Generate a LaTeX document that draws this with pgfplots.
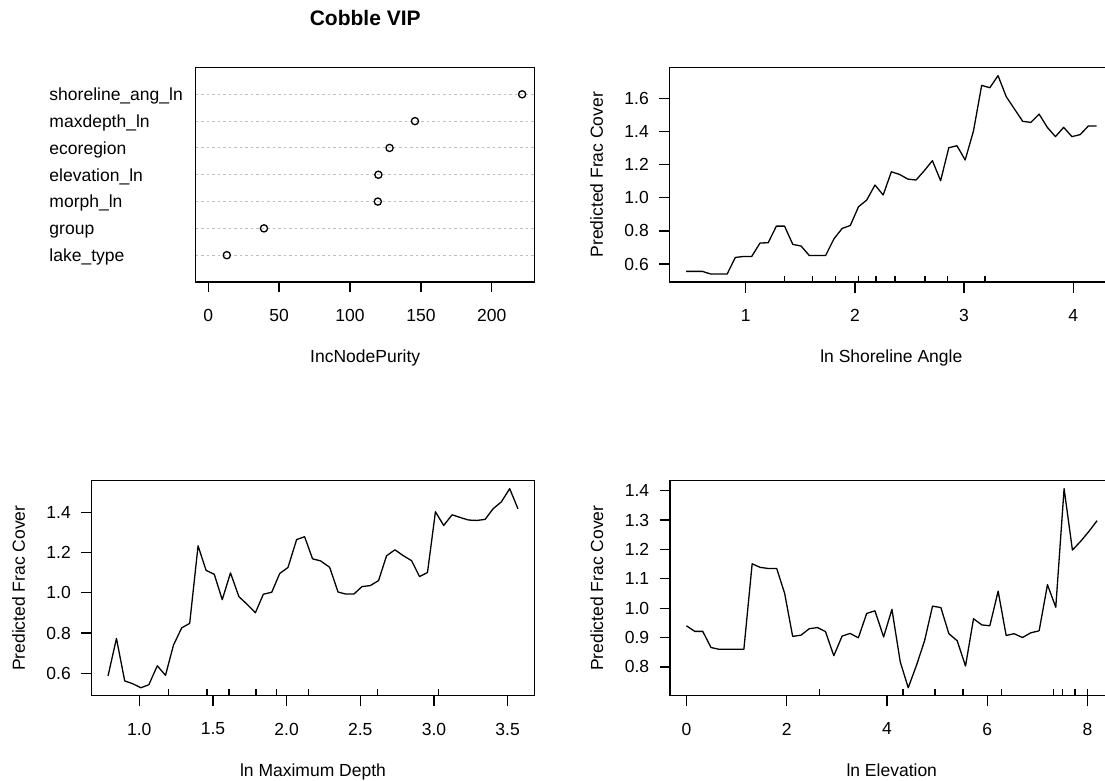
\documentclass[border=0pt]{standalone}
\usepackage{fontspec}
\setmainfont{Liberation Sans}
\usepackage{pgfplots}
\pgfplotsset{compat=1.18}

\definecolor{dotgray}{RGB}{190,190,190}

% common look of the four panels (base R graphics style)
\pgfplotsset{
  rplot/.style={
    scale only axis,
    axis line style={line width=1.3pt, black},
    tick style={line width=1.3pt, black},
    tick align=outside,
    major tick length=10.5pt,
    tick pos=left,
    extra tick style={tick align=outside, major tick length=10.5pt,
      tick style={line width=1.3pt, black}},
    tick label style={font=\fontsize{17.5}{21}\selectfont, inner sep=0pt},
    label style={font=\fontsize{17.5}{21}\selectfont, inner sep=0pt},
    xticklabel style={anchor=north},
    xticklabel shift=16.5pt,
    yticklabel style={anchor=east},
    yticklabel shift=10.2pt,
    xlabel style={at={([yshift=-80.5pt]axis description cs:0.5,0)}, anchor=base},
    ylabel style={at={([xshift=-66.9pt]axis description cs:0,0.5)}, anchor=base},
  },
  pdline/.style={black, line width=1.3pt, no marks, line join=round},
  rugmarks/.style={black, only marks, mark=|, mark size=3.2pt,
    mark options={line width=1.3pt}},
}

\pgfplotstableread{
x y
0.454 0.556
0.529 0.556
0.604 0.556
0.680 0.540
0.755 0.540
0.830 0.540
0.905 0.640
0.980 0.646
1.055 0.646
1.131 0.727
1.206 0.729
1.281 0.829
1.356 0.829
1.431 0.719
1.507 0.709
1.582 0.652
1.657 0.652
1.732 0.652
1.807 0.751
1.883 0.815
1.958 0.833
2.033 0.946
2.108 0.986
2.184 1.077
2.259 1.017
2.334 1.157
2.409 1.141
2.484 1.113
2.560 1.107
2.635 1.163
2.710 1.224
2.785 1.103
2.860 1.302
2.935 1.314
3.010 1.228
3.086 1.403
3.161 1.678
3.236 1.664
3.311 1.737
3.386 1.610
3.461 1.536
3.537 1.461
3.612 1.455
3.687 1.505
3.762 1.425
3.837 1.369
3.912 1.425
3.988 1.369
4.063 1.381
4.138 1.433
4.213 1.433
}\tabshore

\pgfplotstableread{
x y
0.788 0.587
0.845 0.773
0.901 0.562
0.955 0.548
1.011 0.528
1.065 0.543
1.122 0.637
1.178 0.590
1.232 0.740
1.288 0.826
1.342 0.848
1.399 1.234
1.453 1.112
1.509 1.092
1.563 0.966
1.619 1.099
1.676 0.981
1.730 0.944
1.788 0.901
1.842 0.993
1.899 1.003
1.953 1.096
2.009 1.126
2.068 1.265
2.122 1.279
2.176 1.169
2.230 1.159
2.292 1.127
2.349 1.004
2.401 0.994
2.457 0.994
2.511 1.031
2.568 1.036
2.624 1.061
2.678 1.184
2.735 1.214
2.791 1.185
2.848 1.160
2.902 1.081
2.956 1.101
3.010 1.403
3.066 1.335
3.123 1.388
3.177 1.375
3.234 1.362
3.290 1.360
3.347 1.365
3.401 1.418
3.457 1.452
3.514 1.518
3.570 1.418
}\tabdepth

\pgfplotstableread{
x y
0.000 0.940
0.166 0.921
0.325 0.921
0.490 0.866
0.649 0.860
0.815 0.860
0.980 0.860
1.146 0.860
1.311 1.151
1.470 1.139
1.636 1.135
1.801 1.135
1.960 1.050
2.119 0.904
2.285 0.908
2.450 0.930
2.616 0.934
2.775 0.920
2.940 0.838
3.106 0.905
3.265 0.914
3.430 0.899
3.596 0.982
3.761 0.991
3.934 0.902
4.100 0.996
4.266 0.817
4.425 0.729
4.591 0.806
4.751 0.889
4.910 1.007
5.076 1.002
5.236 0.913
5.402 0.889
5.568 0.803
5.728 0.964
5.894 0.943
6.053 0.940
6.219 1.058
6.379 0.907
6.538 0.913
6.704 0.900
6.870 0.916
7.037 0.923
7.203 1.080
7.369 1.003
7.535 1.407
7.701 1.198
7.867 1.228
8.033 1.262
8.193 1.298
}\tabelev

\pgfplotstableread{
val row
13.1 1
39.3 2
119.6 3
120.0 4
127.9 5
145.8 6
221.4 7
}\tabvip

\begin{document}
\begin{tikzpicture}
\useasboundingbox (0pt,0pt) rectangle (1105pt,780pt);
\fill[white] (0pt,0pt) rectangle (1105pt,780pt);

% variable importance dot chart
\begin{axis}[rplot,
  at={(195.7pt,498pt)}, anchor=south west,
  width=339pt, height=214.5pt,
  xmin=-8.86, xmax=230.26, ymin=0, ymax=8,
  xtick=\empty,
  extra x ticks={0,50,100,150,200},
  extra x tick labels={0,50,100,150,200},
  ytick={1,2,3,4,5,6,7},
  yticklabels={lake\_type,group,morph\_ln,elevation\_ln,ecoregion,maxdepth\_ln,shoreline\_ang\_ln},
  ytick style={draw=none},
  yticklabel style={anchor=base west, yshift=-6.3pt},
  yticklabel shift=135.9pt,
  ymajorgrids,
  major grid style={dotgray, line width=1pt, dash pattern=on 2.5pt off 3pt},
  xlabel={IncNodePurity},
  title={Cobble VIP},
  title style={font=\fontsize{21}{25}\selectfont\bfseries, inner sep=0pt,
    at={([yshift=36.2pt]axis description cs:0.5,1)}, anchor=base},
]
\addplot[only marks, mark=o, mark size=3.6pt, mark options={line width=1.3pt, black}]
  table[x=val, y=row] {\tabvip};
\end{axis}

% partial dependence: shoreline angle
\begin{axis}[rplot,
  at={(669.7pt,498pt)}, anchor=south west,
  width=443.2pt, height=214.5pt,
  xmin=0.304, xmax=4.363, ymin=0.492, ymax=1.786,
  xtick=\empty, ytick=\empty,
  extra x ticks={1,2,3,4},
  extra x tick labels={1,2,3,4},
  extra y ticks={0.6,0.8,1.0,1.2,1.4,1.6},
  extra y tick labels={0.6,0.8,1.0,1.2,1.4,1.6},
  xlabel={ln Shoreline Angle},
  ylabel={Predicted Frac Cover},
]
\addplot[pdline] table[x=x, y=y] {\tabshore};
% rug of the data deciles
\addplot[rugmarks] coordinates {(1.353,0.5113) (1.614,0.5113) (1.820,0.5113)
  (2.031,0.5113) (2.193,0.5113) (2.367,0.5113) (2.642,0.5113) (2.846,0.5113)
  (3.191,0.5113)};
\end{axis}

% partial dependence: maximum depth
\begin{axis}[rplot,
  at={(91.7pt,84.3pt)}, anchor=south west,
  width=442.6pt, height=215pt,
  xmin=0.677, xmax=3.681, ymin=0.4884, ymax=1.5576,
  xtick=\empty, ytick=\empty,
  extra x ticks={1.0,1.5,2.0,2.5,3.0,3.5},
  extra x tick labels={1.0,1.5,2.0,2.5,3.0,3.5},
  extra y ticks={0.6,0.8,1.0,1.2,1.4},
  extra y tick labels={0.6,0.8,1.0,1.2,1.4},
  xlabel={ln Maximum Depth},
  ylabel={Predicted Frac Cover},
]
\addplot[pdline] table[x=x, y=y] {\tabdepth};
% rug of the data deciles
\addplot[rugmarks] coordinates {(1.196,0.5043) (1.460,0.5043) (1.609,0.5043)
  (1.792,0.5043) (1.929,0.5043) (2.150,0.5043) (2.619,0.5043) (3.032,0.5043)};
\end{axis}

% partial dependence: elevation
\begin{axis}[rplot,
  at={(670pt,84.3pt)}, anchor=south west,
  width=443.5pt, height=215pt,
  xmin=-0.328, xmax=8.521, ymin=0.7019, ymax=1.4341,
  xtick=\empty, ytick=\empty,
  extra x ticks={0,2,4,6,8},
  extra x tick labels={0,2,4,6,8},
  extra y ticks={0.8,0.9,1.0,1.1,1.2,1.3,1.4},
  extra y tick labels={0.8,0.9,1.0,1.1,1.2,1.3,1.4},
  xlabel={ln Elevation},
  ylabel={Predicted Frac Cover},
]
\addplot[pdline] table[x=x, y=y] {\tabelev};
% rug of the data deciles
\addplot[rugmarks] coordinates {(2.65,0.7128) (4.32,0.7128) (4.96,0.7128)
  (5.515,0.7128) (6.29,0.7128) (7.32,0.7128) (7.51,0.7128) (7.75,0.7128)
  (8.0,0.7128)};
\end{axis}
\end{tikzpicture}
\end{document}
